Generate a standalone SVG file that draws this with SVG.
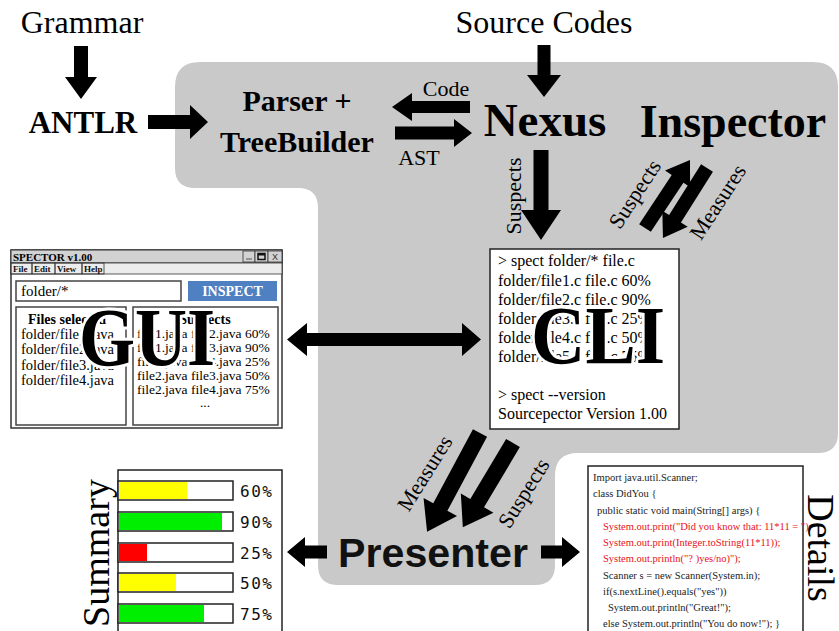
<svg xmlns="http://www.w3.org/2000/svg" width="839" height="631" viewBox="0 0 839 631">
  <style>
    .serif { font-family: "Liberation Serif", "DejaVu Serif", serif; fill: #000; }
    .bold { font-weight: bold; }
    .title { font-family: "Liberation Serif", serif; font-size: 32px; }
    .lbl { font-family: "Liberation Serif", serif; font-size: 22px; }
    .big { font-family: "Liberation Serif", serif; font-weight: bold; font-size: 82px; fill: #000; stroke: #fff; stroke-width: 6px; paint-order: stroke; stroke-linejoin: round; }
    .cli { font-family: "Liberation Serif", serif; font-size: 16px; }
    .code { font-family: "Liberation Serif", serif; font-size: 10.5px; fill: #222; }
    .red { fill: #e8101a; }
    .pct { font-family: "DejaVu Sans Mono", monospace; font-size: 16px; letter-spacing: 1.5px; fill: #111; }
    .panel { fill: #fff; stroke: #444; stroke-width: 1.5; }
    .arrow { fill: #000; }
  </style>

  <!-- shaded back region: the core of the tool -->
  <path id="core" d="M200,62 H813 Q838,62 838,87 V433 Q838,453 818,453 H578 Q555,453 555,476 V565 Q555,585 535,585 H338 Q318,585 318,565 V208 Q318,188 298,188 H195 Q175,188 175,168 V87 Q175,62 200,62 Z" fill="#c9c9c9"/>

  <!-- plain labels / nodes -->
  <g id="grammar"><text class="title" x="82" y="33" text-anchor="middle">Grammar</text></g>
  <g id="source"><text class="title" x="544" y="33" text-anchor="middle">Source Codes</text></g>
  <g id="antlr"><text class="serif bold" x="83" y="133" font-size="31" text-anchor="middle">ANTLR</text></g>
  <g id="parser">
    <text class="serif bold" x="297" y="111" font-size="30" text-anchor="middle">Parser +</text>
    <text class="serif bold" x="297" y="152" font-size="30" text-anchor="middle">TreeBuilder</text>
  </g>
  <g id="nexus"><text class="serif bold" x="545" y="136" font-size="47" text-anchor="middle">Nexus</text></g>
  <g id="inspector"><text class="serif bold" x="733" y="137" font-size="46" text-anchor="middle">Inspector</text></g>

  <!-- GUI window -->
  <g id="gui">
    <rect x="11" y="250" width="271" height="178" fill="#fff" stroke="#333" stroke-width="1.5"/>
    <rect x="11" y="250" width="271" height="13" fill="#d2d2d2" stroke="#333" stroke-width="1"/>
    <text class="serif bold" x="13" y="261" font-size="11">SPECTOR v1.00</text>
    <rect x="243" y="251" width="12" height="11" fill="#d2d2d2" stroke="#333" stroke-width="0.8"/>
    <line x1="246" y1="259" x2="252" y2="259" stroke="#555" stroke-width="1"/>
    <rect x="255" y="251" width="13" height="11" fill="#d2d2d2" stroke="#333" stroke-width="0.8"/>
    <rect x="258" y="253.5" width="7" height="6" fill="none" stroke="#111" stroke-width="1.5"/>
    <rect x="258" y="253.5" width="7" height="2" fill="#111"/>
    <rect x="268" y="251" width="14" height="11" fill="#d2d2d2" stroke="#333" stroke-width="0.8"/>
    <text x="275" y="260" font-family="Liberation Sans, sans-serif" font-size="9" text-anchor="middle" fill="#333">X</text>
    <rect x="11" y="263" width="271" height="11" fill="#ececec" stroke="#333" stroke-width="0.8"/>
    <g font-family="Liberation Serif, serif" font-weight="bold" font-size="9" fill="#111">
      <rect x="11" y="263" width="21" height="11" fill="none" stroke="#333" stroke-width="0.8"/>
      <text x="13" y="272">File</text>
      <rect x="32" y="263" width="23" height="11" fill="none" stroke="#333" stroke-width="0.8"/>
      <text x="34" y="272">Edit</text>
      <rect x="55" y="263" width="27" height="11" fill="none" stroke="#333" stroke-width="0.8"/>
      <text x="57" y="272">View</text>
      <rect x="82" y="263" width="22" height="11" fill="none" stroke="#333" stroke-width="0.8"/>
      <text x="84" y="272">Help</text>
    </g>
    <rect x="16" y="281" width="165" height="20" fill="#fff" stroke="#444" stroke-width="1.5"/>
    <text class="serif" x="21" y="296" font-size="15" fill="#222">folder/*</text>
    <rect x="188" y="281" width="89" height="20" fill="#4f81c2"/>
    <text class="serif bold" x="232.5" y="296" font-size="14" text-anchor="middle" style="fill:#fff">INSPECT</text>
    <rect class="panel" x="16" y="307" width="110" height="118"/>
    <rect class="panel" x="133" y="307" width="145" height="118"/>
    <text class="serif bold" x="28" y="324" font-size="14">Files selected</text>
    <g class="serif" font-size="14.5" fill="#222">
      <text x="21" y="339">folder/file1.java</text>
      <text x="21" y="354">folder/file2.java</text>
      <text x="21" y="370">folder/file3.java</text>
      <text x="21" y="385">folder/file4.java</text>
    </g>
    <text class="serif bold" x="205" y="324" font-size="14" text-anchor="middle">Suspects</text>
    <g class="serif" font-size="13.5" fill="#222">
      <text x="137" y="338">file1.java file2.java 60%</text>
      <text x="137" y="352">file1.java file3.java 90%</text>
      <text x="137" y="366">file1.java file4.java 25%</text>
      <text x="137" y="380">file2.java file3.java 50%</text>
      <text x="137" y="394">file2.java file4.java 75%</text>
      <text x="205" y="407" text-anchor="middle">...</text>
    </g>
    <text class="big" x="147" y="365" text-anchor="middle" textLength="136" lengthAdjust="spacingAndGlyphs">GUI</text>
  </g>

  <!-- command-line box -->
  <g id="cli">
    <rect x="490" y="249" width="189" height="180" fill="#fff" stroke="#222" stroke-width="1.5"/>
    <g class="cli">
      <text x="498" y="266">&gt; spect folder/* file.c</text>
      <text x="498" y="286">folder/file1.c file.c 60%</text>
      <text x="498" y="305">folder/file2.c file.c 90%</text>
      <text x="498" y="324">folder/file3.c file.c 25%</text>
      <text x="498" y="343">folder/file4.c file.c 50%</text>
      <text x="498" y="362">folder/file5.c file.c 75%</text>
      <text x="498" y="400">&gt; spect --version</text>
      <text x="498" y="419">Sourcepector Version 1.00</text>
    </g>
    <text class="big" x="598" y="363" text-anchor="middle" textLength="134" lengthAdjust="spacingAndGlyphs">CLI</text>
  </g>

  <!-- presenter -->
  <g id="presenter">
    <text x="433" y="567" font-family="Liberation Sans, Arial, sans-serif" font-weight="bold" font-size="41" text-anchor="middle" textLength="190" lengthAdjust="spacingAndGlyphs" fill="#111">Presenter</text>
  </g>

  <!-- summary bars -->
  <g id="summary">
    <rect x="118" y="470" width="164" height="175" fill="#fff" stroke="#222" stroke-width="1.5"/>
    <g stroke="#222" stroke-width="1.5">
      <rect x="118" y="481" width="115" height="19" fill="#fff"/>
      <rect x="118" y="512" width="115" height="19" fill="#fff"/>
      <rect x="118" y="543" width="115" height="19" fill="#fff"/>
      <rect x="118" y="573" width="115" height="19" fill="#fff"/>
      <rect x="118" y="604" width="115" height="19" fill="#fff"/>
    </g>
    <rect x="119" y="482" width="68" height="17" fill="#ffff00"/>
    <rect x="119" y="513" width="103" height="17" fill="#00ee00"/>
    <rect x="119" y="544" width="28" height="17" fill="#ff0000"/>
    <rect x="119" y="574" width="57" height="17" fill="#ffff00"/>
    <rect x="119" y="605" width="85" height="17" fill="#00ee00"/>
    <g class="pct">
      <text x="240" y="497">60%</text>
      <text x="240" y="528">90%</text>
      <text x="240" y="559">25%</text>
      <text x="240" y="589">50%</text>
      <text x="240" y="620">75%</text>
    </g>
    <text class="serif" transform="translate(109,553) rotate(-90)" font-size="38" text-anchor="middle">Summary</text>
  </g>

  <!-- details: source listing -->
  <g id="details">
    <rect x="588" y="466" width="215" height="180" fill="#fff" stroke="#222" stroke-width="1.5"/>
    <g class="code">
      <text x="593" y="481">Import java.util.Scanner;</text>
      <text x="593" y="497">class DidYou {</text>
      <text x="597" y="514">public static void main(String[] args) {</text>
      <text class="red" x="603" y="530">System.out.print("Did you know that: 11*11 = ");</text>
      <text class="red" x="603" y="546">System.out.print(Integer.toString(11*11));</text>
      <text class="red" x="603" y="562">System.out.println("? )yes/no)");</text>
      <text x="603" y="579">Scanner s = new Scanner(System.in);</text>
      <text x="603" y="595">if(s.nextLine().equals("yes"))</text>
      <text x="608" y="611">System.out.println("Great!");</text>
      <text x="603" y="627">else System.out.println("You do now!"); }</text>
    </g>
    <text class="serif" transform="translate(808,548) rotate(90)" font-size="38" text-anchor="middle">Details</text>
  </g>

  <!-- connectors -->
  <g id="connectors" class="arrow">
    <path transform="translate(81,46) rotate(90)" d="M0,-7 H31 V-16 L53,0 L31,16 V7 H0 Z"/>
    <path transform="translate(148,122)" d="M0,-7 H42 V-17 L60,0 L42,17 V7 H0 Z"/>
    <path transform="translate(470,107) rotate(180)" d="M0,-6 H58 V-14 L78,0 L58,14 V6 H0 Z"/>
    <path transform="translate(395,133)" d="M0,-6.5 H59 V-14 L77,0 L59,14 V6.5 H0 Z"/>
    <path transform="translate(544,45) rotate(90)" d="M0,-6.5 H30 V-17 L52,0 L30,17 V6.5 H0 Z"/>
    <path transform="translate(541,150) rotate(90)" d="M0,-7.5 H60 V-20 L90,0 L60,20 V7.5 H0 Z"/>
    <path transform="translate(645,228) rotate(-56.5)" d="M0,-7 H59 V-15 L81.5,0 L59,15 V7 H0 Z"/>
    <path transform="translate(707,168) rotate(122.2)" d="M0,-7 H60 V-15 L82.7,0 L60,15 V7 H0 Z"/>
    <path d="M287,339.5 L307,323 V333 H462 V323 L481,339.5 L462,356 V346 H307 V356 Z"/>
    <path transform="translate(480,433) rotate(118.2)" d="M0,-8 H84 V-19 L112,0 L84,19 V8 H0 Z"/>
    <path transform="translate(513,443) rotate(120.8)" d="M0,-8 H70 V-19 L98,0 L70,19 V8 H0 Z"/>
    <path transform="translate(327,552) rotate(180)" d="M0,-6.5 H22 V-15 L40,0 L22,15 V6.5 H0 Z"/>
    <path transform="translate(541,552)" d="M0,-6.5 H21 V-15 L39,0 L21,15 V6.5 H0 Z"/>
  </g>

  <!-- connector labels -->
  <g id="connector-labels" class="serif">
    <text class="lbl" x="446" y="96" text-anchor="middle" font-size="24">Code</text>
    <text class="lbl" x="419" y="165" text-anchor="middle" font-size="23">AST</text>
    <text class="lbl" transform="translate(521,196) rotate(-90)" text-anchor="middle">Suspects</text>
    <text class="lbl" transform="translate(641,198) rotate(-57)" text-anchor="middle">Suspects</text>
    <text class="lbl" transform="translate(724,206) rotate(-57)" text-anchor="middle">Measures</text>
    <text class="lbl" transform="translate(431,477) rotate(-58)" text-anchor="middle">Measures</text>
    <text class="lbl" transform="translate(530,497) rotate(-58)" text-anchor="middle">Suspects</text>
  </g>
</svg>
